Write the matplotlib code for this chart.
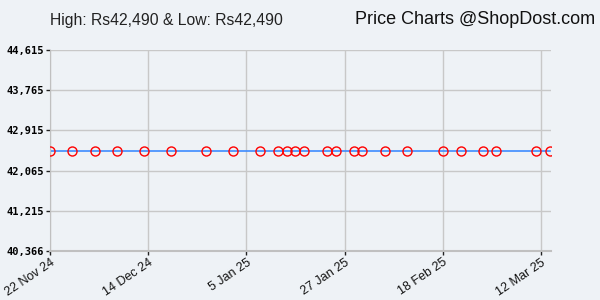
import numpy as np
import pandas as pd
import matplotlib
matplotlib.use('Agg')
import matplotlib.pyplot as plt
import matplotlib.dates as mdates
import matplotlib.transforms as mtransforms
from matplotlib.ticker import FixedLocator, FuncFormatter

# price history (all points at the same price)
dates = pd.to_datetime([
    "2024-11-22", "2024-11-27", "2024-12-02", "2024-12-07", "2024-12-13",
    "2024-12-19", "2024-12-27", "2025-01-02", "2025-01-08", "2025-01-12",
    "2025-01-14", "2025-01-16", "2025-01-18", "2025-01-23", "2025-01-25",
    "2025-01-29", "2025-01-31", "2025-02-05", "2025-02-10", "2025-02-18",
    "2025-02-22", "2025-02-27", "2025-03-02", "2025-03-11", "2025-03-14",
])
prices = [42490] * len(dates)

yticks = [40366, 41215, 42065, 42915, 43765, 44615]
xtick_dates = pd.to_datetime(["2024-11-22", "2024-12-14", "2025-01-05",
                              "2025-01-27", "2025-02-18", "2025-03-12"])
xtick_labels = ["22 Nov 24", "14 Dec 24", "5 Jan 25", "27 Jan 25", "18 Feb 25", "12 Mar 25"]

high_low = "High: Rs42,490 & Low: Rs42,490"
brand = "Price Charts @ShopDost.com"

BG = '#eef2f6'
SANS = 'Liberation Sans'

fig = plt.figure(figsize=(6, 3), dpi=100)
fig.patch.set_facecolor(BG)
ax = fig.add_axes([50 / 600, 1 - 251 / 300, 501 / 600, 201 / 300])
ax.set_facecolor(BG)

ax.plot(dates, prices, color='#3d8bff', lw=1.2, zorder=2)
ax.plot(dates, prices, linestyle='none', marker='o', ms=6.5, mfc='none',
        mec='#ff0000', mew=1.0, zorder=3)

ax.set_xlim(pd.Timestamp("2024-11-22"), pd.Timestamp("2025-03-14 06:00"))
ax.set_ylim(yticks[0], yticks[-1])

ax.yaxis.set_major_locator(FixedLocator(yticks))
ax.yaxis.set_major_formatter(FuncFormatter(lambda v, p: f"{int(round(v)):,}"))
ax.set_xticks(mdates.date2num(xtick_dates))
ax.set_xticklabels(xtick_labels, rotation=34, ha='right', va='top',
                   rotation_mode='anchor', fontsize=9, color='#111111',
                   family=SANS)
shift = mtransforms.ScaledTranslation(11 / 100, 0, fig.dpi_scale_trans)
for lab in ax.get_xticklabels():
    lab.set_transform(lab.get_transform() + shift)
for lab in ax.get_yticklabels():
    lab.set_fontfamily('DejaVu Sans Mono')
    lab.set_fontweight('bold')
    lab.set_fontsize(7.5)

ax.grid(True, color='#c8c8c8', lw=1.0)
ax.set_axisbelow(True)
ax.tick_params(axis='both', length=3, width=1, color='#222222', pad=1)
for s in ['top', 'right']:
    ax.spines[s].set_visible(False)
ax.spines['left'].set_color('#c0c0c0')
ax.spines['bottom'].set_color('#c0c0c0')
ax.spines['bottom'].set_linewidth(1.5)

fig.text(50 / 600, 1 - 20 / 300, high_low, fontsize=11.3, va='center', ha='left',
         color='#222222', family=SANS)
fig.text(595 / 600, 1 - 20 / 300, brand, fontsize=13, va='center', ha='right',
         color='#111111', family=SANS)

fig.savefig("out.png", dpi=100, facecolor=BG)
